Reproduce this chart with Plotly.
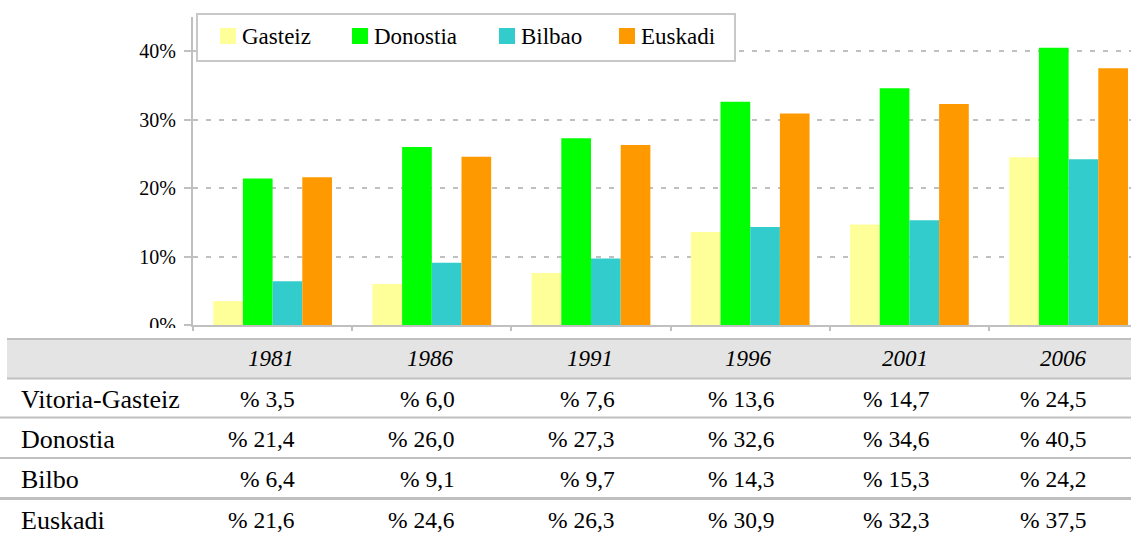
import plotly.graph_objects as go

# Share of the population (%) by year and area
years = ["1981", "1986", "1991", "1996", "2001", "2006"]
gasteiz = [3.5, 6.0, 7.6, 13.6, 14.7, 24.5]
donostia = [21.4, 26.0, 27.3, 32.6, 34.6, 40.5]
bilbao = [6.4, 9.1, 9.7, 14.3, 15.3, 24.2]
euskadi = [21.6, 24.6, 26.3, 30.9, 32.3, 37.5]

legend_names = ["Gasteiz", "Donostia", "Bilbao", "Euskadi"]
table_names = ["Vitoria-Gasteiz", "Donostia", "Bilbo", "Euskadi"]
series = [gasteiz, donostia, bilbao, euskadi]
colors = ["#ffff99", "#00ff00", "#33cccc", "#ff9900"]

y_ticks = [0, 10, 20, 30, 40]
y_tick_labels = ["0%", "10%", "20%", "30%", "40%"]

W, H = 1131, 534
L, R, T, B = 193, 0, 17, 209
PW, PH = W - L - R, H - T - B
FONT = "Liberation Serif"
GRAY = "#c0c0c0"


def px(x):
    return (x - L) / PW


def py(y):
    return (H - B - y) / PH


fig = go.Figure()
for name, vals, col in zip(legend_names, series, colors):
    fig.add_trace(go.Bar(x=years, y=vals, name=name, marker_color=col,
                         marker_line_width=0, showlegend=False))

shapes = []
annotations = []

# legend box
shapes.append(dict(type="rect", xref="paper", yref="paper",
                   x0=px(197), x1=px(735), y0=py(14), y1=py(61),
                   line=dict(color="#c8c8c8", width=2), fillcolor="white",
                   layer="above"))
swatch_x = [220, 352, 499, 619]
for sx, name, col in zip(swatch_x, legend_names, colors):
    shapes.append(dict(type="rect", xref="paper", yref="paper",
                       x0=px(sx), x1=px(sx + 16), y0=py(28), y1=py(44),
                       line=dict(width=0), fillcolor=col, layer="above"))
    annotations.append(dict(text=name, xref="paper", yref="paper",
                            x=px(sx + 20), y=py(36.5), xanchor="left",
                            yanchor="middle", showarrow=False,
                            font=dict(family=FONT, size=23, color="#000")))

# mask under the plot for the lower half of the 0% label
shapes.append(dict(type="rect", xref="paper", yref="paper",
                   x0=px(0), x1=px(190), y0=py(328), y1=py(339),
                   line=dict(width=0), fillcolor="white", layer="above"))

# data table below the chart
shapes.append(dict(type="rect", xref="paper", yref="paper",
                   x0=px(7), x1=px(1131), y0=py(339), y1=py(378.5),
                   line=dict(width=0), fillcolor="#e4e4e4", layer="above"))
for yy, lw, x0 in [(339, 2, 7), (378.5, 2, 7), (417.5, 2, 0),
                   (458, 2, 0), (498.5, 3, 0)]:
    shapes.append(dict(type="line", xref="paper", yref="paper",
                       x0=px(x0), x1=px(1131), y0=py(yy), y1=py(yy),
                       line=dict(color=GRAY, width=lw), layer="above"))

header_cx = [271, 430, 590, 748, 905, 1063]
value_rx = [297, 457, 617, 777, 932, 1089]
row_cy = [399, 439, 479, 520]

for cx, yr in zip(header_cx, years):
    annotations.append(dict(text="<i>%s</i>" % yr, xref="paper", yref="paper",
                            x=px(cx), y=py(358.5), xanchor="center",
                            yanchor="middle", showarrow=False,
                            font=dict(family=FONT, size=23, color="#000")))

for name, vals, cy in zip(table_names, series, row_cy):
    annotations.append(dict(text=name, xref="paper", yref="paper",
                            x=px(19), y=py(cy), xanchor="left",
                            yanchor="middle", showarrow=False,
                            font=dict(family=FONT, size=26, color="#000")))
    for v, rx in zip(vals, value_rx):
        label = ("%% %.1f" % v).replace(".", ",")
        annotations.append(dict(text=label, xref="paper", yref="paper",
                                x=px(rx), y=py(cy), xanchor="right",
                                yanchor="middle", showarrow=False,
                                font=dict(family=FONT, size=23.5, color="#000")))

fig.update_layout(
    width=W, height=H,
    margin=dict(l=L, r=R, t=T, b=B, pad=0),
    paper_bgcolor="white", plot_bgcolor="white",
    barmode="group", bargap=0.254, bargroupgap=0,
    font=dict(family=FONT, color="#000"),
    shapes=shapes, annotations=annotations,
    xaxis=dict(type="category", range=[-0.5, -0.5 + PW / 159.2],
               showticklabels=False, showline=True, linecolor=GRAY,
               linewidth=2, ticks="outside", tickson="boundaries",
               ticklen=4, tickwidth=2, tickcolor=GRAY, showgrid=False,
               zeroline=False, fixedrange=True),
    yaxis=dict(range=[0, 45], tickmode="array", tickvals=y_ticks,
               ticktext=y_tick_labels,
               showline=True, linecolor=GRAY, linewidth=2,
               ticks="outside", ticklen=7, tickwidth=2, tickcolor=GRAY,
               ticklabelstandoff=4,
               showgrid=True, gridcolor=GRAY, gridwidth=2,
               griddash="5px,8px", zeroline=False,
               tickfont=dict(family=FONT, size=20, color="#000"),
               fixedrange=True),
)

fig.write_html("out.html")
